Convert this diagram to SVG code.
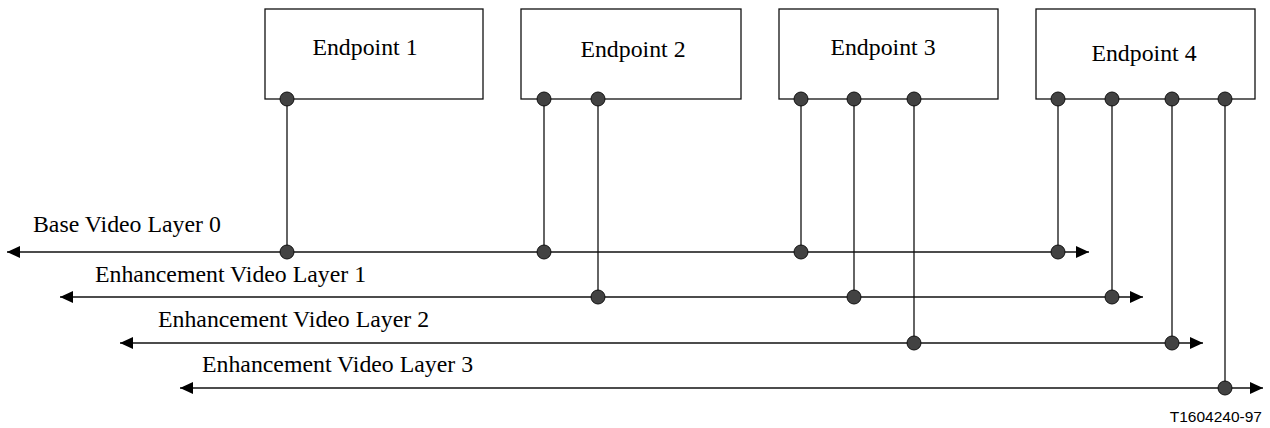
<svg xmlns="http://www.w3.org/2000/svg" width="1270" height="428" viewBox="0 0 1270 428">
<defs>
<style>
.box{fill:#fff;stroke:#111;stroke-width:1.3}
.ln{stroke:#111;stroke-width:1.3;fill:none}
.dot{fill:#424242;stroke:#111;stroke-width:1}
.t{font-family:"Liberation Serif","Times New Roman",serif;font-size:23.8px;fill:#000}
.c{text-anchor:middle}
.id{font-family:"Liberation Sans",Arial,sans-serif;font-size:15.5px;fill:#000;text-anchor:end}
</style>
<marker id="ah" viewBox="0 0 13 12" refX="13" refY="6" markerWidth="13" markerHeight="12" markerUnits="userSpaceOnUse" orient="auto-start-reverse">
<path d="M0,0 L13,6 L0,12 Z" fill="#000"/>
</marker>
</defs>
<rect width="1270" height="428" fill="#fff"/>

<g id="connectors">
<line class="ln" x1="7" y1="252" x2="1089" y2="252" marker-start="url(#ah)" marker-end="url(#ah)"/>
<line class="ln" x1="60" y1="297" x2="1143" y2="297" marker-start="url(#ah)" marker-end="url(#ah)"/>
<line class="ln" x1="120" y1="343" x2="1203" y2="343" marker-start="url(#ah)" marker-end="url(#ah)"/>
<line class="ln" x1="180" y1="388" x2="1263" y2="388" marker-start="url(#ah)" marker-end="url(#ah)"/>
<line class="ln" x1="287" y1="99" x2="287" y2="252"/>
<line class="ln" x1="544" y1="99" x2="544" y2="252"/>
<line class="ln" x1="598" y1="99" x2="598" y2="297"/>
<line class="ln" x1="801" y1="99" x2="801" y2="252"/>
<line class="ln" x1="854" y1="99" x2="854" y2="297"/>
<line class="ln" x1="914" y1="99" x2="914" y2="343"/>
<line class="ln" x1="1058" y1="99" x2="1058" y2="252"/>
<line class="ln" x1="1112" y1="99" x2="1112" y2="297"/>
<line class="ln" x1="1172" y1="99" x2="1172" y2="343"/>
<line class="ln" x1="1225" y1="99" x2="1225" y2="388"/>
<circle class="dot" cx="287" cy="252" r="7"/>
<circle class="dot" cx="544" cy="252" r="7"/>
<circle class="dot" cx="598" cy="297" r="7"/>
<circle class="dot" cx="801" cy="252" r="7"/>
<circle class="dot" cx="854" cy="297" r="7"/>
<circle class="dot" cx="914" cy="343" r="7"/>
<circle class="dot" cx="1058" cy="252" r="7"/>
<circle class="dot" cx="1112" cy="297" r="7"/>
<circle class="dot" cx="1172" cy="343" r="7"/>
<circle class="dot" cx="1225" cy="388" r="7"/>
</g>

<g id="layer-labels">
<text class="t" x="33" y="232">Base Video Layer 0</text>
<text class="t" x="95" y="282">Enhancement Video Layer 1</text>
<text class="t" x="158" y="327">Enhancement Video Layer 2</text>
<text class="t" x="202" y="372">Enhancement Video Layer 3</text>
</g>

<g id="endpoint1">
<rect class="box" x="265" y="9" width="218" height="90"/>
<text class="t c" x="365" y="55">Endpoint 1</text>
<circle class="dot" cx="287" cy="99" r="7"/>
</g>
<g id="endpoint2">
<rect class="box" x="521" y="9" width="220" height="90"/>
<text class="t c" x="633" y="57">Endpoint 2</text>
<circle class="dot" cx="544" cy="99" r="7"/>
<circle class="dot" cx="598" cy="99" r="7"/>
</g>
<g id="endpoint3">
<rect class="box" x="779" y="9" width="219" height="90"/>
<text class="t c" x="883" y="55">Endpoint 3</text>
<circle class="dot" cx="801" cy="99" r="7"/>
<circle class="dot" cx="854" cy="99" r="7"/>
<circle class="dot" cx="914" cy="99" r="7"/>
</g>
<g id="endpoint4">
<rect class="box" x="1036" y="9" width="219" height="90"/>
<text class="t c" x="1144" y="61">Endpoint 4</text>
<circle class="dot" cx="1058" cy="99" r="7"/>
<circle class="dot" cx="1112" cy="99" r="7"/>
<circle class="dot" cx="1172" cy="99" r="7"/>
<circle class="dot" cx="1225" cy="99" r="7"/>
</g>

<text class="id" x="1262" y="422">T1604240-97</text>
</svg>
